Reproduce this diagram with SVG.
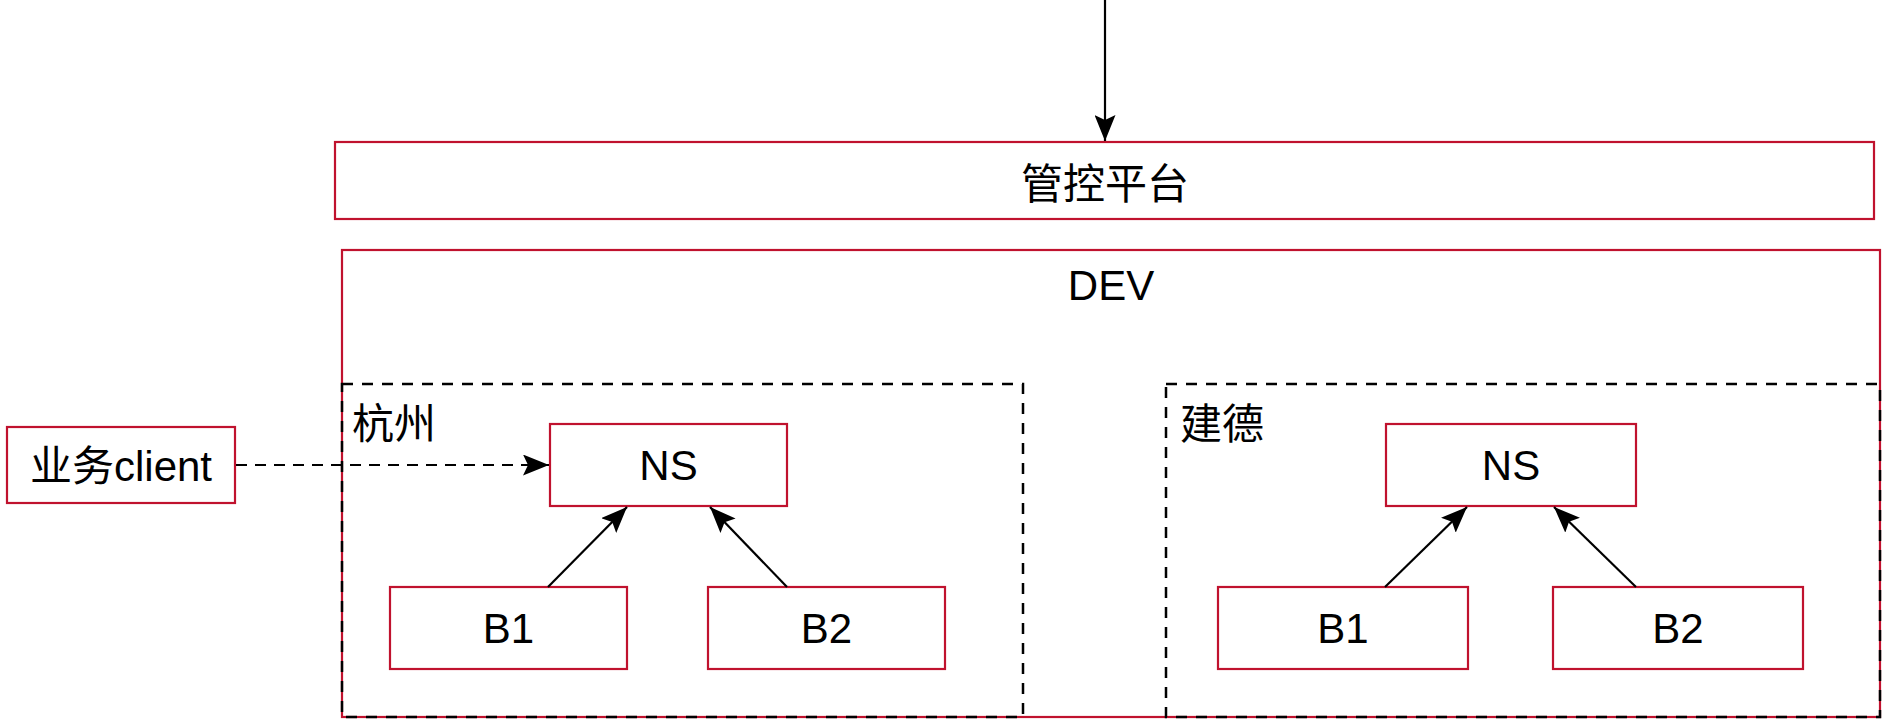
<svg xmlns="http://www.w3.org/2000/svg" width="1894" height="726" viewBox="0 0 1894 726">
<style>
.box{fill:#ffffff;stroke:#c0122e;stroke-width:2.2}
.frame{fill:none;stroke:#c0122e;stroke-width:2.2}
.zone{fill:none;stroke:#000000;stroke-width:2.5;stroke-dasharray:11 9}
.lbl{font-family:"Liberation Sans","Noto Sans CJK SC",sans-serif;font-size:42px;fill:#000000}
.c{text-anchor:middle}
.edge{fill:none;stroke:#000000;stroke-width:2.2}
.dash{stroke-dasharray:11 8}
</style>
<defs>
<marker id="arr" viewBox="0 0 26 21" refX="26" refY="10.5" markerWidth="26" markerHeight="21" markerUnits="userSpaceOnUse" orient="auto">
<path d="M0,0 L26,10.5 L0,21 L5,10.5 Z" fill="#000000"/>
</marker>
</defs>
<g id="mgmt">
<rect class="box" x="335" y="142" width="1539" height="77"/>
<text class="lbl c" x="1105" y="199">管控平台</text>
</g>
<g id="dev">
<rect class="frame" x="342" y="250" width="1538" height="467"/>
<text class="lbl c" x="1111" y="300">DEV</text>
</g>
<g id="hangzhou">
<rect class="zone" x="342" y="384" width="681" height="333"/>
<text class="lbl" x="352" y="439">杭州</text>
</g>
<g id="jiande">
<rect class="zone" x="1166" y="384" width="714" height="333"/>
<text class="lbl" x="1180" y="439">建德</text>
</g>
<g id="client">
<rect class="box" x="7" y="427" width="228" height="76"/>
<text class="lbl c" x="121" y="481">业务client</text>
</g>
<g id="hz-ns">
<rect class="box" x="550" y="424" width="237" height="82"/>
<text class="lbl c" x="668.5" y="480">NS</text>
</g>
<g id="hz-b1">
<rect class="box" x="390" y="587" width="237" height="82"/>
<text class="lbl c" x="508.5" y="643">B1</text>
</g>
<g id="hz-b2">
<rect class="box" x="708" y="587" width="237" height="82"/>
<text class="lbl c" x="826.5" y="643">B2</text>
</g>
<g id="jd-ns">
<rect class="box" x="1386" y="424" width="250" height="82"/>
<text class="lbl c" x="1511" y="480">NS</text>
</g>
<g id="jd-b1">
<rect class="box" x="1218" y="587" width="250" height="82"/>
<text class="lbl c" x="1343" y="643">B1</text>
</g>
<g id="jd-b2">
<rect class="box" x="1553" y="587" width="250" height="82"/>
<text class="lbl c" x="1678" y="643">B2</text>
</g>
<g id="connectors">
<line class="edge" x1="1105" y1="0" x2="1105" y2="141" marker-end="url(#arr)"/>
<line class="edge dash" x1="236" y1="465" x2="549" y2="465" marker-end="url(#arr)"/>
<line class="edge" x1="548" y1="587" x2="627" y2="507" marker-end="url(#arr)"/>
<line class="edge" x1="787" y1="587" x2="710" y2="507" marker-end="url(#arr)"/>
<line class="edge" x1="1385" y1="587" x2="1467" y2="507" marker-end="url(#arr)"/>
<line class="edge" x1="1636" y1="587" x2="1554" y2="507" marker-end="url(#arr)"/>
</g>
</svg>
